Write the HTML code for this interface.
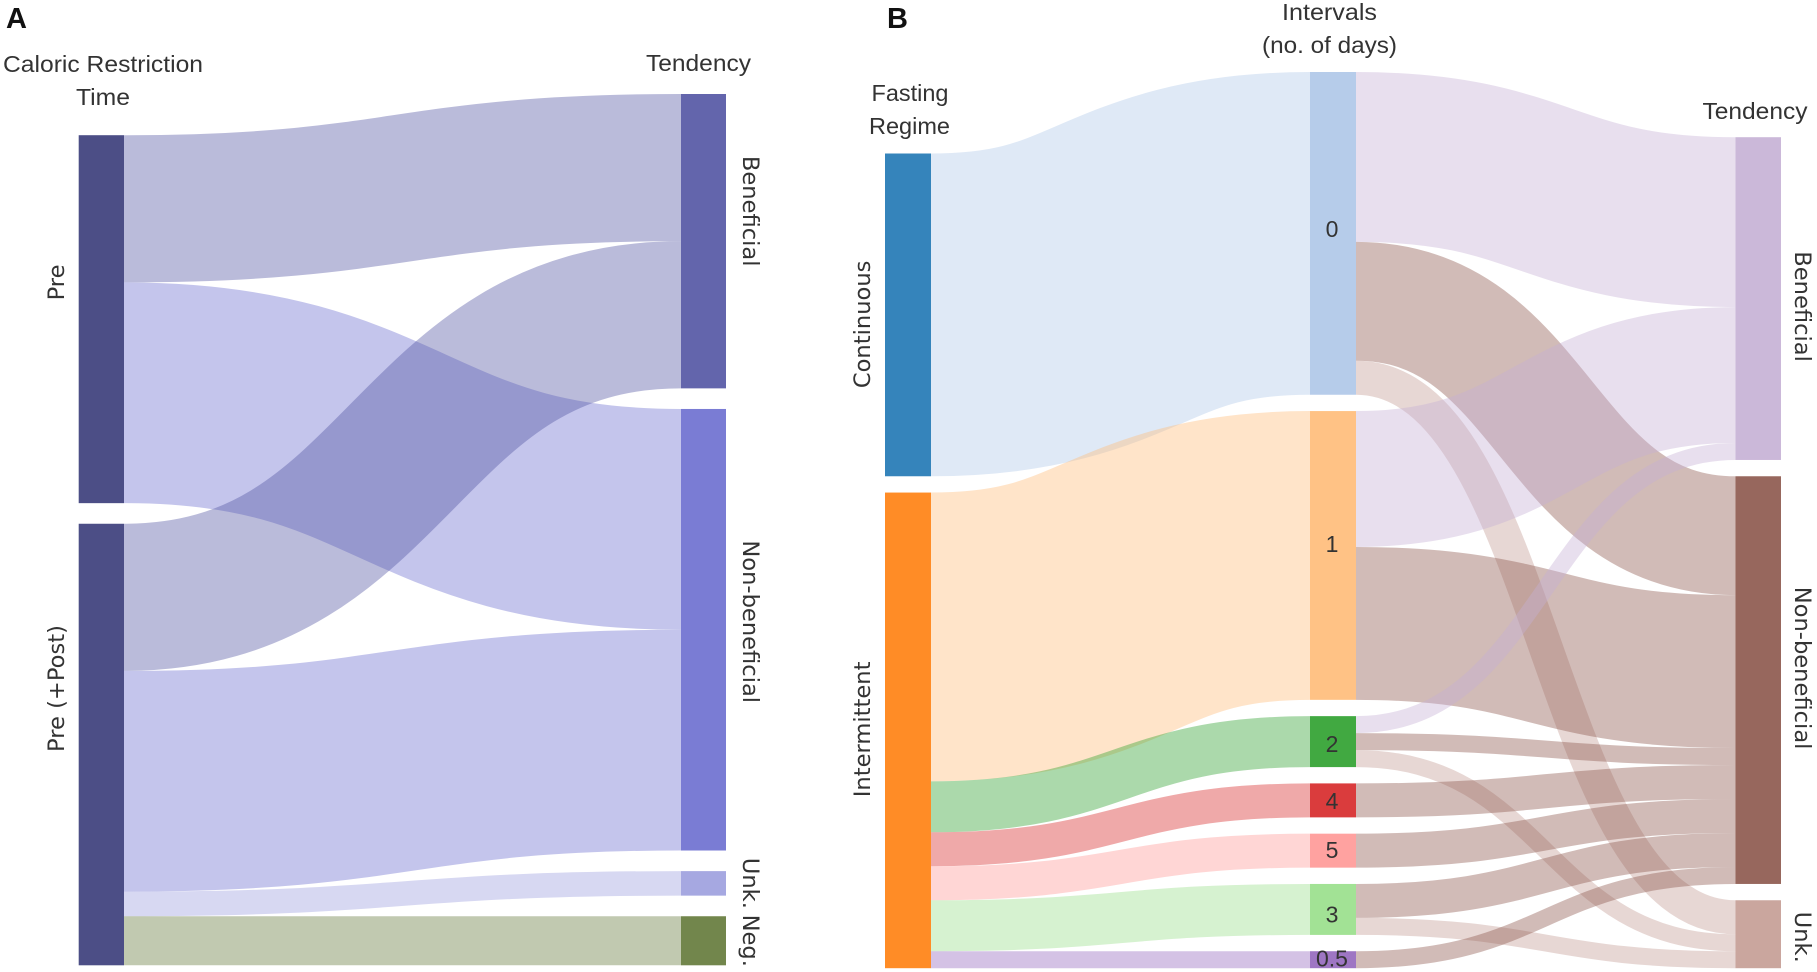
<!DOCTYPE html>
<html lang="en">
<head>
<meta charset="utf-8">
<title>Sankey diagrams of caloric restriction and fasting regimes</title>
<style>
  html, body { margin: 0; padding: 0; background: #fff; }
  svg { display: block; }
  .head { font-family: "Liberation Sans", sans-serif; font-size: 23px; fill: #333; }
  .panel { font-family: "Liberation Sans", sans-serif; font-size: 29px; font-weight: bold; fill: #111; }
  .node-label { font-family: "DejaVu Sans", sans-serif; font-size: 22.6px; fill: #333; }
  .mid-label { font-family: "Liberation Sans", sans-serif; font-size: 23px; fill: #333; }
</style>
</head>
<body>
<svg id="chart" width="1817" height="972" viewBox="0 0 1817 972" xmlns="http://www.w3.org/2000/svg">
  <rect width="1817" height="972" fill="#fff"/>
  <g id="panel-a"></g>
  <g id="panel-b"></g>

  <text class="panel" x="6" y="28">A</text>
  <text class="panel" x="887" y="28">B</text>

  <text class="head" x="3" y="72" textLength="200" lengthAdjust="spacingAndGlyphs">Caloric Restriction</text>
  <text class="head" x="76" y="105" textLength="54" lengthAdjust="spacingAndGlyphs">Time</text>
  <text class="head" x="646" y="71" textLength="105" lengthAdjust="spacingAndGlyphs">Tendency</text>

  <text class="head" x="871.5" y="101" textLength="77" lengthAdjust="spacingAndGlyphs">Fasting</text>
  <text class="head" x="869" y="134" textLength="81" lengthAdjust="spacingAndGlyphs">Regime</text>
  <text class="head" x="1282" y="20" textLength="95" lengthAdjust="spacingAndGlyphs">Intervals</text>
  <text class="head" x="1262" y="53" textLength="135" lengthAdjust="spacingAndGlyphs">(no. of days)</text>
  <text class="head" x="1702.5" y="119" textLength="105" lengthAdjust="spacingAndGlyphs">Tendency</text>
</svg>

<script>
// ---------- Panel A data ----------
const restrictionTimes = ['Pre', 'Pre (+Post)'];
const tendenciesA = ['Beneficial', 'Non-beneficial', 'Unk.', 'Neg.'];
const preToTendency = [6, 9, 0, 0];
const prePostToTendency = [6, 9, 1, 2];

// ---------- Panel B data ----------
const fastingRegimes = ['Continuous', 'Intermittent'];
const intervalDays = ['0', '1', '2', '4', '5', '3', '0.5'];
const tendenciesB = ['Beneficial', 'Non-beneficial', 'Unk.'];
const continuousToInterval = [19, 0, 0, 0, 0, 0, 0];
const intermittentToInterval = [0, 17, 3, 2, 2, 3, 1];
const day0ToTendency = [10, 7, 2];
const day1ToTendency = [8, 9, 0];
const day2ToTendency = [1, 1, 1];
const day4ToTendency = [0, 2, 0];
const day5ToTendency = [0, 2, 0];
const day3ToTendency = [0, 2, 1];
const dayHalfToTendency = [0, 1, 0];

// ---------- Styling and layout ----------
const NS = 'http://www.w3.org/2000/svg';
const NODE_OPACITY = 0.9;
const LINK_OPACITY = 0.4;

const panelAConfig = {
  key: 'a', top: 94, bottom: 965.3, gap: 20.6,
  columns: [
    { labels: restrictionTimes, x0: 78.7, x1: 124, colors: ['#393b79', '#393b79'], labelX: 64, rotate: -90,
      nudges: { 'Pre': -36.7, 'Pre (+Post)': -56 } },
    { labels: tendenciesA, x0: 681, x1: 726, colors: ['#5254a3', '#6b6ecf', '#9c9ede', '#637939'], labelX: 743, rotate: 90,
      nudges: { 'Beneficial': -30, 'Non-beneficial': -8, 'Unk.': 0, 'Neg.': 0 } }
  ],
  flows: [[preToTendency, prePostToTendency]]
};

const panelBConfig = {
  key: 'b', top: 72, bottom: 968.2, gap: 16.3,
  columns: [
    { labels: fastingRegimes, x0: 885, x1: 931, colors: ['#1f77b4', '#ff7f0e'], labelX: 870, rotate: -90,
      nudges: { 'Continuous': 9.5, 'Intermittent': -1 } },
    { labels: intervalDays, x0: 1310, x1: 1356, colors: ['#aec7e8', '#ffbb78', '#2ca02c', '#d62728', '#ff9896', '#98df8a', '#9467bd'], labelX: 1332, rotate: 0,
      nudges: { '0': 3.5, '1': -3.3, '2': 10.5, '4': 8.5, '5': 7.5, '3': 13, '0.5': 7 } },
    { labels: tendenciesB, x0: 1735.5, x1: 1781, colors: ['#c5b0d5', '#8c564b', '#c49c94'], labelX: 1795, rotate: 90,
      nudges: { 'Beneficial': 8, 'Non-beneficial': -12, 'Unk.': 3 } }
  ],
  flows: [
    [continuousToInterval, intermittentToInterval],
    [day0ToTendency, day1ToTendency, day2ToTendency, day4ToTendency, day5ToTendency, day3ToTendency, dayHalfToTendency]
  ]
};

function sum(arr) { return arr.reduce(function (a, b) { return a + b; }, 0); }
function slug(s) { return String(s).toLowerCase().replace(/[^a-z0-9]+/g, '-').replace(/^-|-$/g, ''); }

function columnValues(cfg, c) {
  const n = cfg.columns[c].labels.length;
  const vals = new Array(n).fill(0);
  if (c < cfg.flows.length) {
    cfg.flows[c].forEach(function (row, i) { vals[i] = Math.max(vals[i], sum(row)); });
  }
  if (c > 0) {
    const incoming = new Array(n).fill(0);
    cfg.flows[c - 1].forEach(function (row) {
      row.forEach(function (v, j) { incoming[j] += v; });
    });
    incoming.forEach(function (v, j) { vals[j] = Math.max(vals[j], v); });
  }
  return vals;
}

function drawPanel(cfg) {
  const group = document.getElementById('panel-' + cfg.key);
  const allValues = cfg.columns.map(function (col, c) { return columnValues(cfg, c); });

  // Value-to-pixel scale is set by the column that needs the most room.
  let unit = Infinity;
  allValues.forEach(function (vals) {
    const u = (cfg.bottom - cfg.top - cfg.gap * (vals.length - 1)) / sum(vals);
    unit = Math.min(unit, u);
  });
  const yScale = function (v) { return v * unit; };

  // Columns are stacked upward from the shared bottom edge.
  const tops = allValues.map(function (vals) {
    const total = yScale(sum(vals)) + cfg.gap * (vals.length - 1);
    let y = cfg.bottom - total;
    return vals.map(function (v) {
      const t = y;
      y += yScale(v) + cfg.gap;
      return t;
    });
  });

  // Links are thick stroked centre-lines, so their edges are offset curves.
  cfg.flows.forEach(function (matrix, c) {
    const from = cfg.columns[c];
    const to = cfg.columns[c + 1];
    const inOffset = new Array(to.labels.length).fill(0);
    matrix.forEach(function (row, i) {
      let outOffset = 0;
      row.forEach(function (v, j) {
        if (v <= 0) { return; }
        const h = yScale(v);
        const y0 = tops[c][i] + outOffset + h / 2;
        const y1 = tops[c + 1][j] + inOffset[j] + h / 2;
        const xc = (from.x1 + to.x0) / 2;
        const d = 'M' + from.x1 + ',' + y0 +
          'C' + xc + ',' + y0 + ' ' + xc + ',' + y1 + ' ' + to.x0 + ',' + y1;
        const link = document.createElementNS(NS, 'path');
        link.setAttribute('d', d);
        link.setAttribute('fill', 'none');
        link.setAttribute('stroke', to.colors[j]);
        link.setAttribute('stroke-width', h);
        link.setAttribute('stroke-opacity', LINK_OPACITY);
        
        
        group.appendChild(link);
        outOffset += h;
        inOffset[j] += h;
      });
    });
  });

  // Nodes and labels
  cfg.columns.forEach(function (col, c) {
    col.labels.forEach(function (label, i) {
      const top = tops[c][i];
      const h = yScale(allValues[c][i]);
      const rect = document.createElementNS(NS, 'rect');
      rect.setAttribute('x', col.x0);
      rect.setAttribute('y', top);
      rect.setAttribute('width', col.x1 - col.x0);
      rect.setAttribute('height', h);
      rect.setAttribute('fill', col.colors[i]);
      rect.setAttribute('fill-opacity', NODE_OPACITY);
      
      
      group.appendChild(rect);

      const labelY = top + h / 2 + col.nudges[label];
      const text = document.createElementNS(NS, 'text');
      text.textContent = label;
      text.setAttribute('text-anchor', 'middle');
      if (col.rotate) {
        text.setAttribute('class', 'node-label');
        text.setAttribute('transform', 'translate(' + col.labelX + ',' + labelY + ') rotate(' + col.rotate + ')');
      } else {
        text.setAttribute('class', 'mid-label');
        text.setAttribute('x', col.labelX);
        text.setAttribute('y', labelY);
      }
      
      
      group.appendChild(text);
    });
  });
}

drawPanel(panelAConfig);
drawPanel(panelBConfig);
</script>
</body>
</html>
